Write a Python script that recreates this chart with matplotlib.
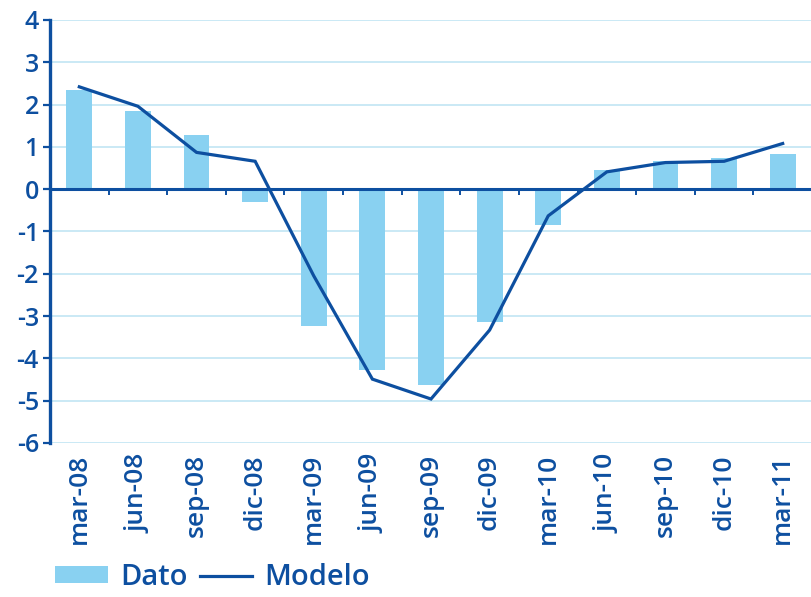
import numpy as np
import matplotlib.pyplot as plt
from matplotlib.patches import Patch
from matplotlib.lines import Line2D

# --- Data ---
categories = ['mar-08', 'jun-08', 'sep-08', 'dic-08', 'mar-09', 'jun-09', 'sep-09',
              'dic-09', 'mar-10', 'jun-10', 'sep-10', 'dic-10', 'mar-11']
dato = [2.34, 1.84, 1.29, -0.31, -3.24, -4.27, -4.64, -3.14, -0.85, 0.46, 0.67, 0.74, 0.84]
modelo = [2.42, 1.96, 0.87, 0.66, -2.05, -4.49, -4.96, -3.33, -0.63, 0.41, 0.63, 0.66, 1.08]
yticks = list(range(-6, 5))

# --- Style ---
DARK = '#0d4fa0'
LIGHT = '#89d1f1'
GRID = '#c6e7f5'
plt.rcParams['font.family'] = ['Open Sans', 'DejaVu Sans']

fig = plt.figure(figsize=(8.12, 5.97), dpi=100)
ax = fig.add_axes([50/812, (597-443)/597, 762/812, 423/597])

x = np.arange(len(categories))
ax.bar(x, dato, width=0.44, color=LIGHT, zorder=2)
ax.plot(x, modelo, color=DARK, lw=2.3, zorder=4, solid_joinstyle='miter')

ax.set_xlim(-0.5, len(categories) - 0.5)
ax.set_ylim(-6, 4)
ax.set_yticks(yticks)
ax.set_yticklabels([str(v) for v in yticks])
ax.yaxis.grid(True, color=GRID, lw=1.3, zorder=0)
ax.set_axisbelow(True)

# zero line with small boundary ticks
ax.axhline(0, color=DARK, lw=2.2, zorder=5)
ax.vlines(np.arange(0.5, len(categories) - 0.5), 0, -0.13, color=DARK, lw=1.4, zorder=5)

for s in ['top', 'right', 'bottom']:
    ax.spines[s].set_visible(False)
ax.spines['left'].set_color(DARK)
ax.spines['left'].set_linewidth(2.4)
ax.spines['left'].set_zorder(6)

ax.set_xticks(x)
ax.set_xticklabels(categories, rotation=90, color=DARK, fontsize=19, fontweight='semibold')
ax.tick_params(axis='x', length=0, pad=8)
ax.tick_params(axis='y', direction='out', length=5, width=1.6, color=DARK,
               labelcolor=DARK, labelsize=18, pad=3)
for t in ax.get_yticklabels():
    t.set_fontweight('semibold')

handles = [Patch(facecolor=LIGHT, edgecolor='none'),
           Line2D([0], [0], color=DARK, lw=2.3)]
leg = fig.legend(handles, ['Dato', 'Modelo'], loc='lower left', bbox_to_anchor=(0.043, -0.026),
                 ncol=2, frameon=False, fontsize=21, labelcolor=DARK,
                 handlelength=1.8, handleheight=0.5, handletextpad=0.42, columnspacing=0.42,
                 borderpad=0.2)
for t in leg.get_texts():
    t.set_fontweight('semibold')

fig.savefig('out.png', dpi=100)
